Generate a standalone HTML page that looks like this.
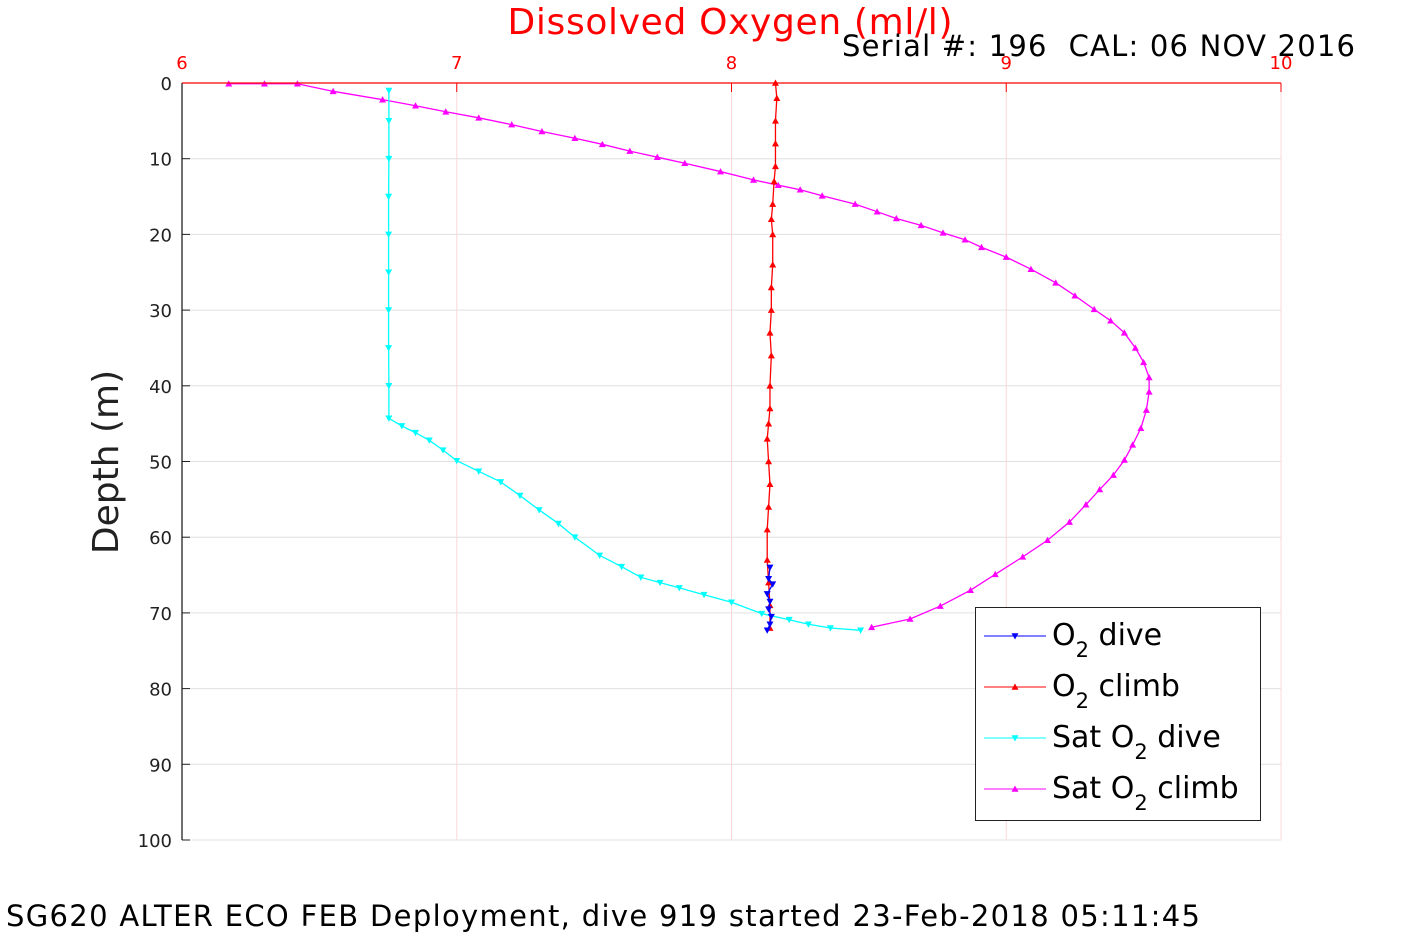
<!DOCTYPE html>
<html><head><meta charset="utf-8"><style>
body{margin:0;background:#fff;}
svg text{font-family:"DejaVu Sans","Liberation Sans",sans-serif;}
</style></head><body>
<svg id="c" width="1417" height="945" xmlns="http://www.w3.org/2000/svg">
<rect width="1417" height="945" fill="#fff"/>
<g id="grid"></g><g id="series"></g><g id="axes"></g>
<text x="730" y="34" font-size="36" fill="#f00" text-anchor="middle" textLength="445">Dissolved Oxygen (ml/l)</text>
<text x="842" y="56" font-size="29" fill="#000" textLength="513" xml:space="preserve">Serial #: 196  CAL: 06 NOV 2016</text>
<text x="0" y="0" font-size="36" fill="#222" text-anchor="middle" transform="translate(118,462) rotate(-90)">Depth (m)</text>
<text x="6" y="926" font-size="29" fill="#000" textLength="1194">SG620 ALTER ECO FEB Deployment, dive 919 started 23-Feb-2018 05:11:45</text>
<g>
<rect x="975.5" y="607.5" width="285" height="213" fill="#fff" stroke="#222" stroke-width="1"/>
<g id="legend"></g>
</g>
</svg>
<script>
const xTicks=[6,7,8,9,10];
const yTicks=[0,10,20,30,40,50,60,70,80,90,100];
const satClimbO2=[6.17,6.30,6.42,6.55,6.73,6.85,6.96,7.08,7.20,7.31,7.43,7.53,7.63,7.73,7.83,7.96,8.08,8.17,8.25,8.33,8.45,8.53,8.60,8.69,8.77,8.85,8.91,9.00,9.09,9.18,9.25,9.32,9.38,9.43,9.47,9.50,9.52,9.52,9.51,9.49,9.46,9.43,9.39,9.34,9.29,9.23,9.15,9.06,8.96,8.87,8.76,8.65,8.51];
const satClimbDepth=[0.1,0.1,0.1,1.1,2.2,3.0,3.8,4.6,5.5,6.4,7.3,8.1,9.0,9.8,10.6,11.7,12.8,13.5,14.1,14.9,16.0,17.0,17.9,18.8,19.8,20.7,21.7,23.0,24.6,26.4,28.1,29.9,31.4,33.0,35.0,36.9,38.9,40.8,43.2,45.6,47.8,49.8,51.8,53.7,55.7,58.0,60.4,62.6,64.9,67.0,69.1,70.8,71.9];
const satDiveO2=[6.753,6.753,6.753,6.752,6.752,6.752,6.752,6.752,6.753,6.753,6.80,6.85,6.90,6.95,7.00,7.08,7.16,7.23,7.30,7.37,7.43,7.52,7.60,7.67,7.74,7.81,7.90,8.00,8.11,8.21,8.28,8.36,8.47];
const satDiveDepth=[1,5,10,15,20,25,30,35,40,44.3,45.3,46.2,47.2,48.5,49.9,51.3,52.7,54.5,56.4,58.2,60.0,62.4,63.9,65.3,66.0,66.7,67.6,68.6,70.1,70.9,71.5,72.0,72.3];
const climbO2=[8.16,8.165,8.16,8.16,8.16,8.155,8.15,8.145,8.15,8.15,8.145,8.145,8.14,8.145,8.14,8.14,8.135,8.13,8.135,8.14,8.135,8.13,8.13,8.135,8.14,8.14];
const climbDepth=[0,2,5,8,11,13,16,18,20,24,27,30,33,36,40,43,45,47,50,53,56,59,63,66,69,72];
const diveO2=[8.14,8.135,8.15,8.13,8.14,8.135,8.145,8.14,8.13];
const diveDepth=[64,65.5,66.2,67.5,68.5,69.5,70.5,71.5,72.3];
const X0=182,X1=1281,Y0=83,Y1=840;
const xs=v=>X0+(v-6)/4*(X1-X0);
const ys=d=>Y0+d/100*(Y1-Y0);
const NS='http://www.w3.org/2000/svg';
function mk(t,a,p){const e=document.createElementNS(NS,t);for(const k in a)e.setAttribute(k,a[k]);p.appendChild(e);return e;}
const grid=document.getElementById('grid'),axes=document.getElementById('axes'),ser=document.getElementById('series');
yTicks.forEach(t=>{
 const g=mk('line',{x1:X0,x2:X1,y1:ys(t),y2:ys(t),stroke:'#e0e0e0','stroke-width':1},grid);
 
 
 const l=mk('text',{x:172,y:ys(t)+7,'font-size':18,fill:'#222','text-anchor':'end'},axes);
 l.textContent=t;
 
 
 mk('line',{x1:X0,x2:X0+8,y1:ys(t),y2:ys(t),stroke:'#222'},axes);
});
xTicks.forEach(t=>{
 const g=mk('line',{x1:xs(t),x2:xs(t),y1:Y0,y2:Y1,stroke:'#fbd8d8','stroke-width':1},grid);
 
 
 mk('line',{x1:xs(t),x2:xs(t),y1:Y0,y2:Y0+9,stroke:'#f00'},axes);
 const l=mk('text',{x:xs(t),y:69,'font-size':18,fill:'#f00','text-anchor':'middle'},axes);
 l.textContent=t;
 
 
});
mk('line',{x1:X0,x2:X1,y1:Y0,y2:Y0,stroke:'#f00','stroke-width':1.3},axes);
mk('line',{x1:X0,x2:X0,y1:Y0,y2:Y1,stroke:'#222','stroke-width':1.3},axes);
function tri(x,y,up,c,p){const s=3.5;const pts=up?`${x-s},${y+s*0.8} ${x+s},${y+s*0.8} ${x},${y-s}`:`${x-s},${y-s*0.8} ${x+s},${y-s*0.8} ${x},${y+s}`;return mk('polygon',{points:pts,fill:c},p);}
function series(name,vx,vy,c,up){
 const g=mk('g',{},ser);
 
 
 mk('polyline',{points:vx.map((v,i)=>xs(v)+','+ys(vy[i])).join(' '),fill:'none',stroke:c,'stroke-width':1.3},g);
 vx.forEach((v,i)=>{const m=tri(xs(v),ys(vy[i]),up,c,g);
 
 });
}
series('sat-o2-climb',satClimbO2,satClimbDepth,'#f0f',true);
series('sat-o2-dive',satDiveO2,satDiveDepth,'#0ff',false);
series('o2-climb',climbO2,climbDepth,'#f00',true);
series('o2-dive',diveO2,diveDepth,'#00f',false);
const lg=document.getElementById('legend');
[['O<tspan baseline-shift="sub" font-size="21">2</tspan> dive','#00f',false],['O<tspan baseline-shift="sub" font-size="21">2</tspan> climb','#f00',true],['Sat O<tspan baseline-shift="sub" font-size="21">2</tspan> dive','#0ff',false],['Sat O<tspan baseline-shift="sub" font-size="21">2</tspan> climb','#f0f',true]].forEach((e,i)=>{
 const y=636+i*51;
 mk('line',{x1:984,x2:1046,y1:y,y2:y,stroke:e[1],'stroke-width':1},lg);
 tri(1015,y,e[2],e[1],lg);
 const t=mk('text',{x:1052,y:y+9,'font-size':30,fill:'#000'},lg);
 t.innerHTML=e[0];
 
 
});
</script>
</body></html>
